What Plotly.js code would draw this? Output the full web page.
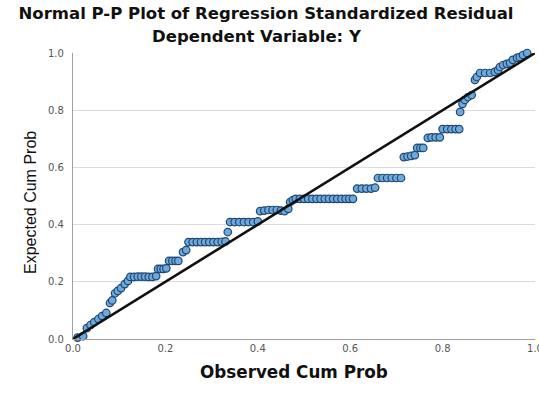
<!DOCTYPE html>
<html>
<head>
<meta charset="utf-8">
<script src="https://cdn.plot.ly/plotly-3.0.1.min.js"></script>
<style>
html,body{margin:0;padding:0;background:#fff;}
#chart{width:539px;height:398px;}
</style>
</head>
<body>
<div id="chart"></div>
<script>
// Observed cumulative probability (x) and expected cumulative probability (y)
var observedCumProb = [
  0.010, 0.022, 0.030, 0.038, 0.046, 0.055, 0.063, 0.072,
  0.080, 0.085, 0.091, 0.097, 0.104, 0.112, 0.119,
  0.124, 0.132, 0.140, 0.148, 0.156, 0.164, 0.172, 0.180,
  0.184, 0.190, 0.196, 0.202,
  0.208, 0.215, 0.222, 0.228,
  0.238, 0.245,
  0.250, 0.259, 0.268, 0.277, 0.286, 0.295, 0.304, 0.313, 0.322, 0.330,
  0.335,
  0.340, 0.350, 0.360, 0.370, 0.380, 0.390, 0.400,
  0.405, 0.414, 0.423, 0.432, 0.441, 0.450, 0.458, 0.466,
  0.470, 0.476,
  0.482, 0.491, 0.500, 0.509, 0.518, 0.527, 0.536, 0.545, 0.554, 0.563, 0.572, 0.581, 0.590, 0.598, 0.606,
  0.615, 0.625, 0.635, 0.645, 0.654,
  0.660, 0.670, 0.680, 0.690, 0.700, 0.710,
  0.716, 0.724, 0.732, 0.740,
  0.745, 0.752, 0.758,
  0.768, 0.776, 0.785, 0.794,
  0.800, 0.810, 0.819, 0.828, 0.836,
  0.838, 0.843, 0.848, 0.855, 0.863,
  0.870, 0.874,
  0.881, 0.892, 0.903, 0.913, 0.920,
  0.924, 0.931, 0.939, 0.946, 0.952, 0.961, 0.967, 0.974, 0.983
];
var expectedCumProb = [
  0.005, 0.010, 0.038, 0.049, 0.059, 0.070, 0.080, 0.091,
  0.126, 0.135, 0.160, 0.168, 0.178, 0.192, 0.203,
  0.217, 0.217, 0.218, 0.218, 0.218, 0.217, 0.217, 0.220,
  0.245, 0.245, 0.245, 0.247,
  0.273, 0.273, 0.273, 0.273,
  0.304, 0.311,
  0.339, 0.339, 0.339, 0.339, 0.339, 0.339, 0.339, 0.339, 0.340, 0.341,
  0.374,
  0.409, 0.409, 0.409, 0.409, 0.409, 0.409, 0.411,
  0.447, 0.449, 0.451, 0.451, 0.451, 0.449, 0.447, 0.455,
  0.479, 0.486,
  0.490, 0.490, 0.490, 0.490, 0.490, 0.490, 0.490, 0.490, 0.490, 0.490, 0.490, 0.490, 0.490, 0.490, 0.490,
  0.526, 0.526, 0.526, 0.526, 0.529,
  0.563, 0.563, 0.563, 0.563, 0.563, 0.563,
  0.636, 0.638, 0.640, 0.643,
  0.668, 0.668, 0.668,
  0.703, 0.705, 0.705, 0.705,
  0.734, 0.734, 0.734, 0.734, 0.734,
  0.794, 0.822, 0.836, 0.846, 0.853,
  0.906, 0.916,
  0.930, 0.930, 0.930, 0.934, 0.940,
  0.951, 0.958, 0.962, 0.965, 0.976, 0.983, 0.986, 0.993, 1.000
];
var refLineX = [0, 1];
var refLineY = [0, 1];
var tickVals = [0, 0.2, 0.4, 0.6, 0.8, 1.0];
var tickText = ['0.0', '0.2', '0.4', '0.6', '0.8', '1.0'];

var titleText = 'Normal P-P Plot of Regression Standardized Residual';
var subtitleText = 'Dependent Variable: Y';
var xTitleText = 'Observed Cum Prob';
var yTitleText = 'Expected Cum Prob';

var traces = [
  {
    type: 'scatter', mode: 'markers',
    x: observedCumProb, y: expectedCumProb,
    cliponaxis: false,
    marker: {size: 7.5, color: '#6aaade', line: {color: '#23466f', width: 1.2}},
    hoverinfo: 'skip'
  },
  {
    type: 'scatter', mode: 'lines',
    x: refLineX, y: refLineY,
    cliponaxis: false,
    line: {color: '#111111', width: 2.6},
    hoverinfo: 'skip'
  }
];

var titleFont = {family: 'DejaVu Sans', size: 16.5, color: '#111', weight: 'bold'};

var layout = {
  width: 539, height: 398,
  margin: {l: 73, r: 4, t: 53, b: 59},
  paper_bgcolor: '#ffffff', plot_bgcolor: '#ffffff',
  showlegend: false,
  title: {
    text: titleText, font: titleFont,
    x: 266 / 539, xanchor: 'center', xref: 'container',
    y: 1 - 13 / 398, yanchor: 'middle', yref: 'container'
  },
  xaxis: {
    range: [0, 1], tickvals: tickVals, ticktext: tickText,
    showgrid: false, zeroline: false,
    showline: true, linecolor: '#a0a0a0', linewidth: 1.2,
    ticks: '', ticklabeloverflow: 'allow',
    tickfont: {family: 'DejaVu Sans', size: 10, color: '#555'},
    fixedrange: true
  },
  yaxis: {
    range: [0, 1], tickvals: tickVals, ticktext: tickText,
    showgrid: true, gridcolor: '#dcdcdc', gridwidth: 1,
    zeroline: false,
    showline: true, linecolor: '#a0a0a0', linewidth: 1.2,
    ticks: '', ticklabelstandoff: 6, ticklabeloverflow: 'allow',
    tickfont: {family: 'DejaVu Sans', size: 10, color: '#555'},
    fixedrange: true
  },
  annotations: [
    {
      text: subtitleText, xref: 'paper', yref: 'paper',
      x: (257 - 73) / 462, y: 1 + (53 - 36) / 286,
      xanchor: 'center', yanchor: 'middle', showarrow: false,
      font: titleFont
    },
    {
      text: xTitleText, xref: 'paper', yref: 'paper',
      x: (294 - 73) / 462, y: -(372 - 339) / 286,
      xanchor: 'center', yanchor: 'middle', showarrow: false,
      font: {family: 'DejaVu Sans', size: 16.8, color: '#111', weight: 'bold'}
    },
    {
      text: yTitleText, xref: 'paper', yref: 'paper',
      x: (30 - 73) / 462, y: (339 - 203) / 286,
      xanchor: 'center', yanchor: 'middle', showarrow: false, textangle: -90,
      font: {family: 'Liberation Sans Narrow, Liberation Sans, Arial', size: 16, color: '#111'}
    }
  ]
};

Plotly.newPlot('chart', traces, layout, {staticPlot: true, displayModeBar: false});
</script>
</body>
</html>
